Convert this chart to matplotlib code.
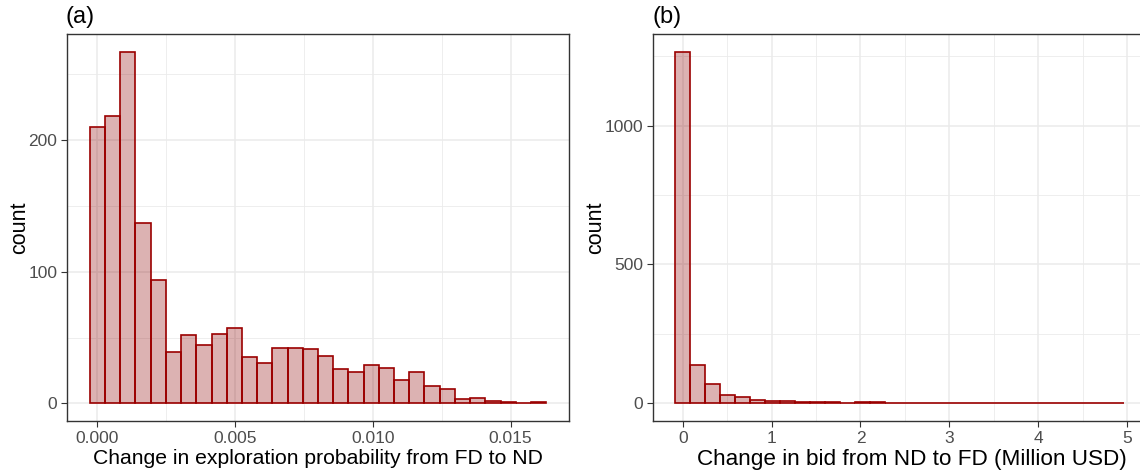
import numpy as np
import matplotlib
matplotlib.use("Agg")
import matplotlib.pyplot as plt
from matplotlib.ticker import MultipleLocator

plt.rcParams['font.family'] = ['Liberation Sans', 'DejaVu Sans']

# ---------------------------------------------------------------- dati
# (a) variazione probabilita' di esplorazione, 30 classi
a_lo, a_hi = -0.00025, 0.01629
a_counts = [210, 218, 267, 137, 94, 39, 52, 44, 53, 57,
            35, 31, 42, 42, 41, 36, 26, 24, 29, 27,
            18, 24, 13, 11, 3, 4, 2, 1, 0, 1]
# (b) variazione dell'offerta (milioni USD), 30 classi
b_lo, b_hi = -0.082, 4.96
b_counts = [1266, 138, 69, 32, 22, 13, 7, 10, 5, 5,
            4, 3, 4, 6, 3, 1, 2, 2, 2, 1,
            1, 1, 1, 1, 1, 1, 1, 2, 0, 1]

FILL = (0.545, 0.0, 0.0, 0.3)
EDGE = '#9b0000'
GRID = '#ebebeb'

fig = plt.figure(figsize=(11.4, 4.72), dpi=100)
W, H = 1140, 472
ax_a = fig.add_axes([67 / W, 1 - 421 / H, (569 - 67) / W, (421 - 34) / H])
# il pannello (b) sborda a destra come nell'originale (bordo tagliato)
ax_b = fig.add_axes([653 / W, 1 - 421 / H, (1146 - 653) / W, (421 - 34) / H])


def hist(ax, lo, hi, counts, xlabel, tag, xmaj, xmin, ymaj, ymin, fmt,
         xl_size=15.2):
    edges = np.linspace(lo, hi, len(counts) + 1)
    ax.bar(edges[:-1], counts, width=np.diff(edges), align='edge',
           color=FILL, edgecolor=EDGE, linewidth=1.2, zorder=3)
    rng = hi - lo
    ax.set_xlim(lo - 0.05 * rng, hi + 0.05 * rng)
    top = max(counts)
    ax.set_ylim(-0.05 * top, 1.05 * top)
    ax.xaxis.set_major_locator(MultipleLocator(xmaj))
    ax.xaxis.set_minor_locator(MultipleLocator(xmin))
    ax.yaxis.set_major_locator(MultipleLocator(ymaj))
    ax.yaxis.set_minor_locator(MultipleLocator(ymin))
    ax.xaxis.set_major_formatter(fmt)
    ax.grid(True, which='major', color=GRID, lw=1.1, zorder=0)
    ax.grid(True, which='minor', color=GRID, lw=0.6, zorder=0)
    ax.set_axisbelow(True)
    for s in ax.spines.values():
        s.set_color('#333333')
        s.set_linewidth(1.0)
    ax.tick_params(which='major', length=4, color='#333333', pad=3,
                   labelsize=12.5, labelcolor='#4d4d4d', width=0.8)
    ax.tick_params(which='minor', length=0)
    ax.set_xlabel(xlabel, fontsize=xl_size, labelpad=2)
    ax.set_ylabel('count', fontsize=15.5, labelpad=-1)
    ax.text(-0.002, 1.015, tag, transform=ax.transAxes, fontsize=17,
            ha='left', va='bottom')


hist(ax_a, a_lo, a_hi, a_counts,
     'Change in exploration probability from FD to ND', '(a)',
     0.005, 0.0025, 100, 50, lambda v, p: f'{v:.3f}')
hist(ax_b, b_lo, b_hi, b_counts,
     'Change in bid from ND to FD (Million USD)', '(b)',
     1, 0.5, 500, 250, lambda v, p: f'{v:.0f}', xl_size=16.2)
ax_b.xaxis.label.set_x(0.525)

fig.savefig('out.png', dpi=100)
